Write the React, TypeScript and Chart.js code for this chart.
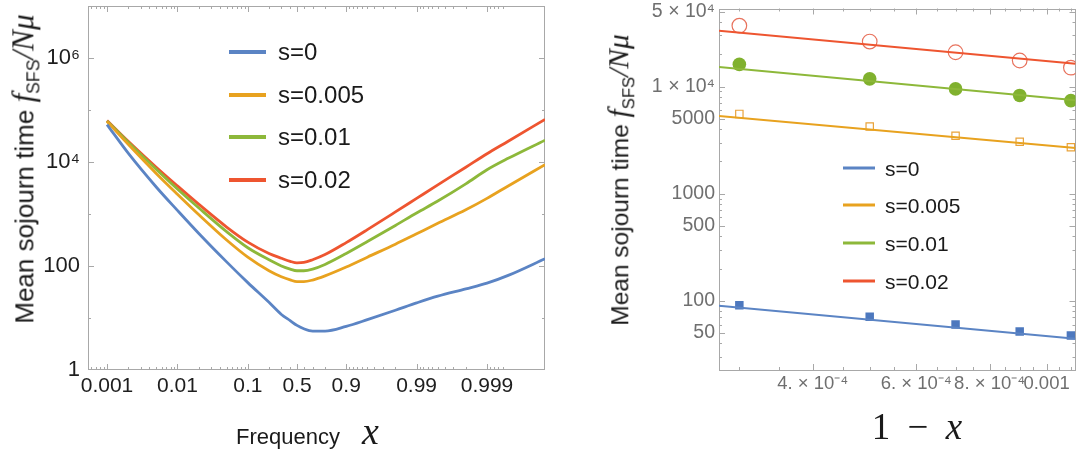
import React, { useEffect, useRef } from 'react';
import { Chart, registerables } from 'chart.js';

Chart.register(...registerables);

// ---------- shared ----------
const seriesNames = ['s=0', 's=0.005', 's=0.01', 's=0.02'];
const seriesColors = ['#5B84C4', '#E8A21F', '#8DB83A', '#EE5530'];
const markerColors = ['#4D78BE', '#E9A33A', '#80B12E', '#E8735E'];

// ---------- left panel data ----------
const frequency = [0.001, 0.002, 0.005, 0.01, 0.02, 0.05, 0.1, 0.2, 0.3, 0.4, 0.5, 0.6, 0.7, 0.8, 0.9, 0.95, 0.98, 0.99, 0.995, 0.998, 0.999, 0.9995, 0.99985];
const sojournS0 = [52500, 14800, 3310, 1175, 427, 120, 47.9, 20, 11.7, 8.9, 7.2, 6.2, 5.6, 5.6, 6.9, 9.3, 14.1, 19.5, 26.3, 36.3, 46.8, 66, 138];
const sojournS005 = [60300, 21900, 6030, 2400, 977, 316, 148, 81, 62, 54, 50, 50, 53.7, 64.6, 95.5, 148, 263, 417, 661, 1202, 1995, 3467, 8913];
const sojournS01 = [61700, 24000, 7240, 3020, 1318, 457, 224, 132, 100, 87, 81, 81, 87, 107, 174, 295, 603, 1047, 1778, 3802, 7079, 11750, 26300];
const sojournS02 = [63100, 25100, 7940, 3470, 1549, 562, 288, 174, 141, 123, 115, 117, 132, 166, 282, 501, 1096, 1995, 3631, 7943, 14450, 25100, 66100];

const leftXMin = 0.000537;
const leftXMax = 0.99985;
const leftXTicks = [0.001, 0.01, 0.1, 0.5, 0.9, 0.99, 0.999];
const leftXTickLabels = ['0.001', '0.01', '0.1', '0.5', '0.9', '0.99', '0.999'];
const leftYMin = 1;
const leftYMax = 1e7;
const leftYTicks = [1, 100, 1e4, 1e6];
const leftYTickLabels = ['1', '100', '10⁴', '10⁶'];

// ---------- right panel data ----------
const oneMinusX = [3e-4, 5e-4, 7e-4, 9e-4, 1.1e-3];
const pointsS0 = [91, 71, 60, 51.6, 47.4];
const pointsS005 = [5550, 4240, 3470, 3050, 2710];
const pointsS01 = [16100, 11800, 9500, 8260, 7380];
const pointsS02 = [37000, 26300, 20900, 17500, 15000];

const fitX = [2.77e-4, 1.12e-3];
const fitS0 = [90, 44.2];
const fitS005 = [5310, 2670];
const fitS01 = [15200, 7460];
const fitS02 = [33200, 16300];

const rightXMin = 2.77e-4;
const rightXMax = 1.12e-3;
const rightXTicks = [4e-4, 6e-4, 8e-4, 1e-3];
const rightXTickLabels = ['4. × 10⁻⁴', '6. × 10⁻⁴', '8. × 10⁻⁴', '0.001'];
const rightYMin = 22.6;
const rightYMax = 53500;
const rightYTicks = [50, 100, 500, 1000, 5000, 1e4, 5e4];
const rightYTickLabels = ['50', '100', '500', '1000', '5000', '1 × 10⁴', '5 × 10⁴'];

// ---------- helpers ----------
// mirrored log scale: log10(2x) below 0.5, -log10(2(1-x)) above 0.5
const mirrorLog = (f: number) => (f <= 0.5 ? Math.log10(2 * f) : -Math.log10(2 * (1 - f)));

const decadeMultiples = (lo: number, hi: number, mults: number[]) => {
  const out: number[] = [];
  for (let e = Math.floor(Math.log10(lo)) - 1; e <= Math.ceil(Math.log10(hi)) + 1; e++) {
    for (const m of mults) {
      const v = m * Math.pow(10, e);
      if (v >= lo && v <= hi) out.push(v);
    }
  }
  return out;
};

const leftXMinor = (() => {
  const low = decadeMultiples(leftXMin, 0.5, [2, 3, 4, 5, 6, 7, 8, 9]).filter((v) => v < 0.5);
  const high = low.map((v) => 1 - v).filter((v) => v <= leftXMax);
  return [...low, ...high].map(mirrorLog);
})();
const leftYMinor = [10, 1000, 1e5, 1e7];
const rightXMinor = decadeMultiples(rightXMin, rightXMax, [3, 3.5, 4.5, 5, 5.5, 6.5, 7, 7.5, 8.5, 9, 9.5, 10.5, 11]);
const rightYMinor = decadeMultiples(rightYMin, rightYMax, [2, 3, 4, 6, 7, 8, 9]);

const frameTicksPlugin = {
  id: 'frameTicks',
  beforeDatasetsDraw(chart: any, _args: any, opts: any) {
    const { ctx, chartArea } = chart;
    const { left, right, top, bottom } = chartArea;
    const xs = chart.scales.x;
    const ys = chart.scales.y;
    ctx.save();
    ctx.strokeStyle = opts.color;
    ctx.lineWidth = 1;
    ctx.beginPath();
    const tickX = (v: number, len: number) => {
      const p = Math.round(xs.getPixelForValue(v)) + 0.5;
      if (p < left + 1 || p > right - 1) return;
      ctx.moveTo(p, bottom);
      ctx.lineTo(p, bottom - len);
      ctx.moveTo(p, top);
      ctx.lineTo(p, top + len);
    };
    const tickY = (v: number, len: number) => {
      const p = Math.round(ys.getPixelForValue(v)) + 0.5;
      if (p < top + 1 || p > bottom - 1) return;
      ctx.moveTo(left, p);
      ctx.lineTo(left + len, p);
      ctx.moveTo(right, p);
      ctx.lineTo(right - len, p);
    };
    opts.xMajor.forEach((v: number) => tickX(v, opts.major));
    opts.xMinor.forEach((v: number) => tickX(v, opts.minor));
    opts.yMajor.forEach((v: number) => tickY(v, opts.major));
    opts.yMinor.forEach((v: number) => tickY(v, opts.minor));
    ctx.stroke();
    ctx.strokeRect(Math.round(left) + 0.5, Math.round(top) + 0.5, Math.round(right - left) - 1, Math.round(bottom - top) - 1);
    ctx.restore();
  },
};

const SANS = "'Liberation Sans', Arial, Helvetica, sans-serif";
const SERIF = "'Liberation Serif', 'Times New Roman', serif";

function leftConfig(): any {
  const all = [sojournS0, sojournS005, sojournS01, sojournS02];
  return {
    type: 'line',
    data: {
      datasets: all.map((vals, i) => ({
        label: seriesNames[i],
        data: frequency.map((f, j) => ({ x: mirrorLog(f), y: vals[j] })),
        borderColor: seriesColors[i],
        backgroundColor: seriesColors[i],
        borderWidth: 2.8,
        pointRadius: 0,
        cubicInterpolationMode: 'monotone',
        fill: false,
      })),
    },
    options: {
      responsive: false,
      devicePixelRatio: 1,
      animation: false,
      layout: { padding: { left: 0, top: 6, right: 15, bottom: 0 } },
      plugins: {
        legend: { display: false },
        tooltip: { enabled: false },
        frameTicks: {
          color: '#a8a8a8',
          major: 6,
          minor: 3,
          xMajor: leftXTicks.map(mirrorLog),
          xMinor: leftXMinor,
          yMajor: leftYTicks,
          yMinor: leftYMinor,
        },
      },
      scales: {
        x: {
          type: 'linear',
          bounds: 'data',
          min: mirrorLog(leftXMin),
          max: mirrorLog(leftXMax),
          grid: { display: false, drawTicks: false },
          border: { display: false },
          afterBuildTicks: (s: any) => {
            s.ticks = leftXTicks.map((v) => ({ value: mirrorLog(v) }));
          },
          afterFit: (s: any) => {
            s.height = 82;
            s.paddingLeft = 0;
            s.paddingRight = 0;
          },
          ticks: {
            autoSkip: false,
            maxRotation: 0,
            padding: 4,
            color: '#1e1e1e',
            font: { family: SANS, size: 21 },
            callback: (_v: any, i: number) => leftXTickLabels[i],
          },
        },
        y: {
          type: 'logarithmic',
          bounds: 'data',
          min: leftYMin,
          max: leftYMax,
          grid: { display: false, drawTicks: false },
          border: { display: false },
          afterBuildTicks: (s: any) => {
            s.ticks = leftYTicks.map((v) => ({ value: v }));
          },
          afterFit: (s: any) => {
            s.width = 88;
            s.paddingTop = 0;
            s.paddingBottom = 0;
          },
          ticks: {
            autoSkip: false,
            padding: 8,
            color: '#1e1e1e',
            font: { family: SANS, size: 22 },
            callback: (_v: any, i: number) => leftYTickLabels[i],
          },
        },
      },
    },
    plugins: [frameTicksPlugin],
  };
}

function rightConfig(): any {
  const pts = [pointsS0, pointsS005, pointsS01, pointsS02];
  const fits = [fitS0, fitS005, fitS01, fitS02];
  const styles = [
    { pointStyle: 'rect', radius: 6.0, filled: true },
    { pointStyle: 'rect', radius: 5.2, filled: false },
    { pointStyle: 'circle', radius: 6.8, filled: true },
    { pointStyle: 'circle', radius: 7.3, filled: false },
  ];
  const lineSets = fits.map((vals, i) => ({
    label: seriesNames[i],
    data: fitX.map((x, j) => ({ x, y: vals[j] })),
    borderColor: seriesColors[i],
    borderWidth: 2,
    pointRadius: 0,
    fill: false,
  }));
  const pointSets = pts.map((vals, i) => ({
    label: seriesNames[i] + ' data',
    data: oneMinusX.map((x, j) => ({ x, y: vals[j] })),
    showLine: false,
    pointStyle: styles[i].pointStyle,
    pointRadius: styles[i].radius,
    pointBorderWidth: styles[i].filled ? 0 : 1.2,
    pointBorderColor: markerColors[i],
    pointBackgroundColor: styles[i].filled ? markerColors[i] : 'rgba(0,0,0,0)',
    borderColor: markerColors[i],
    backgroundColor: markerColors[i],
  }));
  return {
    type: 'line',
    data: { datasets: [...lineSets, ...pointSets] },
    options: {
      responsive: false,
      devicePixelRatio: 1,
      animation: false,
      layout: { padding: { left: 0, top: 4, right: 2, bottom: 0 } },
      plugins: {
        legend: { display: false },
        tooltip: { enabled: false },
        frameTicks: {
          color: '#a8a8a8',
          major: 6,
          minor: 3,
          xMajor: rightXTicks,
          xMinor: rightXMinor,
          yMajor: rightYTicks,
          yMinor: rightYMinor,
        },
      },
      scales: {
        x: {
          type: 'logarithmic',
          bounds: 'data',
          min: rightXMin,
          max: rightXMax,
          grid: { display: false, drawTicks: false },
          border: { display: false },
          afterBuildTicks: (s: any) => {
            s.ticks = rightXTicks.map((v) => ({ value: v }));
          },
          afterFit: (s: any) => {
            s.height = 82;
            s.paddingLeft = 0;
            s.paddingRight = 0;
          },
          ticks: {
            autoSkip: false,
            maxRotation: 0,
            padding: 3,
            color: '#6f6f6f',
            font: { family: SANS, size: 18.5 },
            callback: (_v: any, i: number) => rightXTickLabels[i],
          },
        },
        y: {
          type: 'logarithmic',
          bounds: 'data',
          min: rightYMin,
          max: rightYMax,
          grid: { display: false, drawTicks: false },
          border: { display: false },
          afterBuildTicks: (s: any) => {
            s.ticks = rightYTicks.map((v) => ({ value: v }));
          },
          afterFit: (s: any) => {
            s.width = 159;
            s.paddingTop = 0;
            s.paddingBottom = 0;
          },
          ticks: {
            autoSkip: false,
            padding: 4,
            color: '#6f6f6f',
            font: { family: SANS, size: 19.5 },
            callback: (_v: any, i: number) => rightYTickLabels[i],
          },
        },
      },
    },
    plugins: [frameTicksPlugin],
  };
}

function Legend(props: { left: number; tops: number[]; lineLen: number; lineW: number; gap: number; fontSize: number }) {
  const { left, tops, lineLen, lineW, gap, fontSize } = props;
  return (
    <>
      {seriesNames.map((name, i) => (
        <div
          key={name}
          style={{
            position: 'absolute',
            left,
            top: tops[i],
            transform: 'translateY(-50%)',
            display: 'flex',
            alignItems: 'center',
            whiteSpace: 'nowrap',
            fontFamily: SANS,
            fontSize,
            color: '#1a1a1a',
            lineHeight: 1,
          }}
        >
          <span style={{ display: 'inline-block', width: lineLen, height: lineW, background: seriesColors[i], marginRight: gap }} />
          <span>{name}</span>
        </div>
      ))}
    </>
  );
}

function YTitle(props: { cx: number; cy: number; size: number }) {
  const { cx, cy, size } = props;
  return (
    <div
      style={{
        position: 'absolute',
        left: cx,
        top: cy,
        transform: 'translate(-50%, -50%) rotate(-90deg)',
        whiteSpace: 'nowrap',
        fontFamily: SANS,
        fontSize: size,
        color: '#1a1a1a',
        lineHeight: 1,
      }}
    >
      Mean sojourn time{' '}
      <span style={{ fontFamily: SERIF, fontStyle: 'italic', fontSize: '1.2em' }}>f</span>
      <span style={{ fontSize: '0.68em', position: 'relative', top: '0.35em' }}>SFS</span>
      <span style={{ fontFamily: SERIF, fontStyle: 'italic', fontSize: '1.2em' }}>/Nμ</span>
    </div>
  );
}

export default function App() {
  const leftRef = useRef<HTMLCanvasElement>(null);
  const rightRef = useRef<HTMLCanvasElement>(null);

  useEffect(() => {
    const c1 = new Chart(leftRef.current as HTMLCanvasElement, leftConfig());
    const c2 = new Chart(rightRef.current as HTMLCanvasElement, rightConfig());
    return () => {
      c1.destroy();
      c2.destroy();
    };
  }, []);

  return (
    <div style={{ position: 'fixed', left: 0, top: 0, width: 1084, height: 452, background: '#ffffff', overflow: 'hidden' }}>
      <canvas ref={leftRef} width={560} height={452} style={{ position: 'absolute', left: 0, top: 0, width: 560, height: 452 }} />
      <canvas ref={rightRef} width={524} height={452} style={{ position: 'absolute', left: 560, top: 0, width: 524, height: 452 }} />

      <YTitle cx={23} cy={169} size={26} />
      <YTitle cx={619} cy={180} size={24.5} />

      <Legend left={229} tops={[52, 95, 137, 180]} lineLen={37} lineW={3.5} gap={12} fontSize={24} />
      <Legend left={843} tops={[168, 205, 243, 281]} lineLen={32} lineW={2.6} gap={10} fontSize={21} />

      <div style={{ position: 'absolute', left: 236, top: 431, transform: 'translateY(-50%)', whiteSpace: 'nowrap', lineHeight: 1, color: '#1a1a1a' }}>
        <span style={{ fontFamily: SANS, fontSize: 22 }}>Frequency</span>
        <span style={{ fontFamily: SERIF, fontStyle: 'italic', fontSize: 38, marginLeft: 22 }}>x</span>
      </div>
      <div style={{ position: 'absolute', left: 917, top: 426, transform: 'translate(-50%, -50%)', whiteSpace: 'nowrap', lineHeight: 1, color: '#1a1a1a', fontFamily: SERIF, fontSize: 37, wordSpacing: 8 }}>
        1 − <span style={{ fontStyle: 'italic' }}>x</span>
      </div>
    </div>
  );
}
